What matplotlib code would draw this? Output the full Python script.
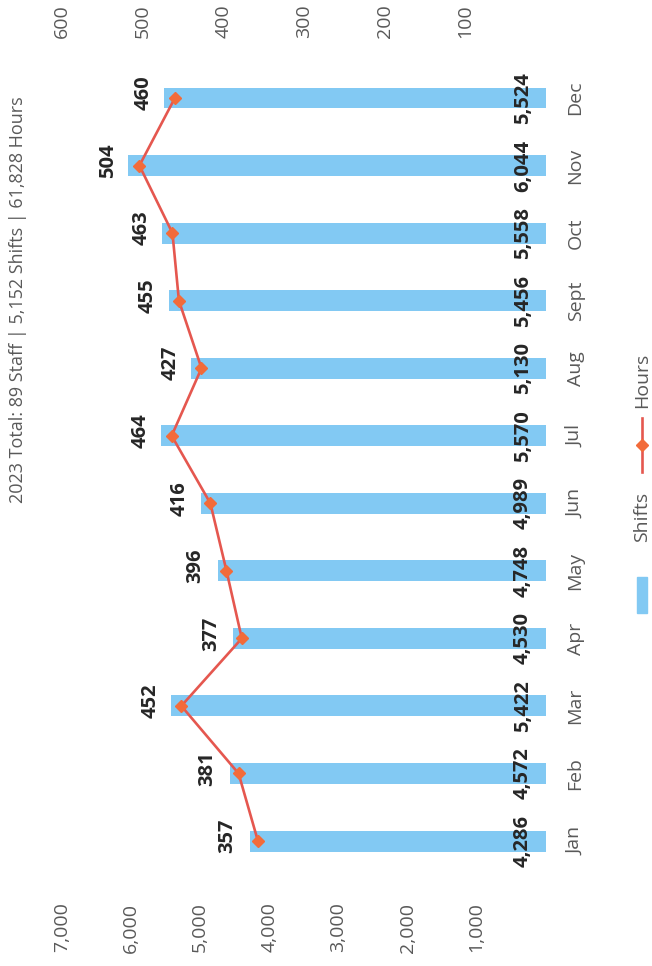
import matplotlib
matplotlib.use("Agg")
import matplotlib.pyplot as plt
from matplotlib.patches import Rectangle
from matplotlib.lines import Line2D

plt.rcParams['font.family'] = ['Open Sans', 'DejaVu Sans']

#%% data
months = ['Jan', 'Feb', 'Mar', 'Apr', 'May', 'Jun', 'Jul', 'Aug', 'Sept', 'Oct', 'Nov', 'Dec']
shifts = [4286, 4572, 5422, 4530, 4748, 4989, 5570, 5130, 5456, 5558, 6044, 5524]
hours = [357, 381, 452, 377, 396, 416, 464, 427, 455, 463, 504, 460]
shift_ticks = [1000, 2000, 3000, 4000, 5000, 6000, 7000]
hour_ticks = [100, 200, 300, 400, 500, 600]
title = '2023 Total: 89 Staff | 5,152 Shifts | 61,828 Hours'

#%% colours
bar_color = '#82C9F3'
line_color = '#E5574F'
marker_color = '#F26B3A'
grey = '#595959'
dark = '#262626'

#%% figure - chart is drawn turned on its side (months run bottom to top)
fig = plt.figure(figsize=(6.52, 9.66), dpi=100)
ax = fig.add_axes([0.0951, 0.0944, 0.7420, 0.8391])

pos = list(range(len(months)))
ax.barh(pos, shifts, height=0.31, color=bar_color)
ax.set_xlim(7000, 0)
ax.set_ylim(-0.5, len(months) - 0.5)
ax.set_xticks(shift_ticks)
ax.set_xticklabels([f'{t:,}' for t in shift_ticks], rotation=90, fontsize=14, color=grey)
ax.tick_params(axis='x', length=0, pad=20)
ax.set_yticks(pos)
ax.set_yticklabels(months, rotation=90, fontsize=14, color=grey, va='center')
ax.yaxis.tick_right()
ax.tick_params(axis='y', length=0, pad=15)
for s in ax.spines.values():
    s.set_visible(False)

#shift labels at the base of each bar
for i, v in enumerate(shifts):
    ax.annotate(f'{v:,}', xy=(0, i), xytext=(-23, 0), textcoords='offset pixels',
                rotation=90, ha='center', va='center', fontsize=14.5,
                fontweight='bold', color=dark)

#hours on the second axis
ax2 = ax.twiny()
ax2.plot(hours, pos, color=line_color, linewidth=1.9, marker='D',
         markersize=6, markerfacecolor=marker_color, markeredgecolor=marker_color)
ax2.set_xlim(600, 0)
ax2.set_xticks(hour_ticks)
ax2.set_xticklabels([str(t) for t in hour_ticks], rotation=90, fontsize=14, color=grey)
ax2.tick_params(axis='x', length=0, pad=19)
for s in ax2.spines.values():
    s.set_visible(False)

for i, v in enumerate(hours):
    ax2.annotate(str(v), xy=(v, i), xytext=(-31, 5), textcoords='offset pixels',
                 rotation=90, ha='center', va='center', fontsize=14.5,
                 fontweight='bold', color=dark)

#title
fig.text(0.027, 1 - 300 / 966, title, rotation=90, ha='center', va='center',
         fontsize=13, color=grey)

#legend drawn by hand so it can be turned like the rest
fig.patches.append(Rectangle((637 / 652, 1 - 613 / 966), 10 / 652, 36 / 966,
                             transform=fig.transFigure, color=bar_color))
fig.text(642 / 652, 1 - 517 / 966, 'Shifts', rotation=90, ha='center', va='center',
         fontsize=14, color=grey)
fig.lines.append(Line2D([642 / 652, 642 / 652], [1 - 472 / 966, 1 - 418 / 966],
                        transform=fig.transFigure, color=line_color, linewidth=1.9))
fig.lines.append(Line2D([642 / 652], [1 - 445 / 966], transform=fig.transFigure,
                        marker='D', markersize=6, color=marker_color, linestyle='none'))
fig.text(642 / 652, 1 - 380 / 966, 'Hours', rotation=90, ha='center', va='center',
         fontsize=14, color=grey)

fig.savefig('out.png', dpi=100)
